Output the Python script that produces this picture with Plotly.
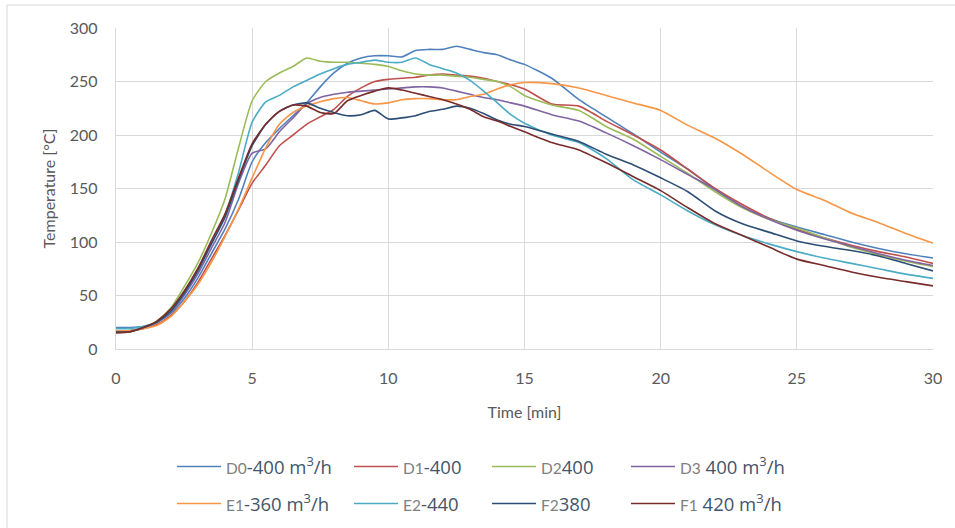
import plotly.graph_objects as go

# time grid [min]
time_min = [0, 0.5, 1, 1.5, 2, 2.5, 3, 3.5, 4, 4.5, 5, 5.5, 6, 6.5, 7, 7.5, 8, 8.5, 9, 9.5,
            10, 10.5, 11, 11.5, 12, 12.5, 13, 13.5, 14, 14.5, 15,
            16, 17, 18, 19, 20, 21, 22, 23, 24, 25, 26, 27, 28, 29, 30]

D0 = [20, 20, 21, 25, 33, 47, 66, 89, 112, 140, 175, 193, 206, 218, 230, 245, 258, 267, 272, 274,
      274, 273, 279, 280, 280, 283, 280, 277, 275, 270, 266,
      253, 233, 217, 201, 184, 168, 149, 133, 122, 114, 107, 100, 94, 89, 85]
D1 = [16, 17, 19, 23, 31, 44, 62, 84, 106, 130, 155, 172, 190, 200, 210, 217, 224, 236, 244, 250,
      252, 253, 254, 256, 257, 256, 255, 253, 250, 247, 243,
      229, 227, 213, 200, 186, 168, 150, 135, 122, 112, 104, 97, 91, 86, 80]
D2 = [17, 17, 20, 26, 38, 58, 80, 108, 140, 188, 232, 250, 258, 264, 272, 269, 268, 268, 267, 266,
      264, 260, 257, 256, 256, 255, 254, 252, 250, 245, 237,
      228, 223, 208, 196, 180, 164, 147, 132, 121, 113, 104, 95, 88, 82, 77]
D3 = [17, 17, 20, 25, 34, 50, 70, 94, 118, 155, 183, 187, 203, 216, 229, 235, 238, 240, 241, 242,
      243, 244, 245, 245, 244, 241, 238, 235, 233, 230, 227,
      219, 213, 202, 190, 177, 163, 149, 133, 121, 111, 103, 96, 89, 83, 78]
E1 = [17, 17, 19, 22, 30, 44, 60, 81, 105, 131, 160, 188, 210, 221, 227, 231, 234, 235, 232, 229,
      230, 233, 234, 234, 233, 233, 236, 238, 243, 247, 249,
      248, 244, 237, 230, 223, 209, 197, 182, 165, 149, 139, 127, 118, 108, 99]
E2 = [19, 19, 21, 25, 35, 52, 73, 99, 125, 165, 212, 231, 237, 245, 251, 257, 262, 266, 268, 270,
      268, 268, 272, 266, 262, 258, 251, 241, 230, 219, 211,
      200, 193, 178, 158, 144, 129, 116, 106, 98, 91, 85, 80, 75, 70, 66]
F2 = [16, 16, 20, 25, 35, 52, 73, 98, 123, 158, 190, 210, 222, 228, 230, 225, 221, 218, 219, 223,
      215, 216, 218, 222, 224, 227, 225, 220, 214, 210, 208,
      201, 194, 182, 172, 160, 147, 129, 117, 109, 101, 96, 92, 87, 80, 73]
F1 = [15, 16, 20, 26, 37, 54, 75, 101, 126, 160, 192, 210, 222, 228, 227, 221, 220, 232, 237, 241,
      244, 242, 239, 236, 233, 229, 224, 217, 213, 208, 203,
      193, 186, 174, 161, 148, 132, 117, 106, 95, 84, 78, 72, 67, 63, 59]

small = '<span style="font-family:Lato;font-size:15.5px;color:#808080">{}</span>'
series = [
    ("D0", small.format("D0") + "-400 m<sup>3</sup>/h", D0, "#4F81BD", "legend"),
    ("D1", small.format("D1") + "-400", D1, "#C0504D", "legend2"),
    ("D2", small.format("D2") + "400", D2, "#9BBB59", "legend3"),
    ("D3", small.format("D3") + " 400 m<sup>3</sup>/h", D3, "#8064A2", "legend4"),
    ("E1", small.format("E1") + "-360 m<sup>3</sup>/h", E1, "#F79646", "legend5"),
    ("E2", small.format("E2") + "-440", E2, "#4BACC6", "legend6"),
    ("F2", small.format("F2") + "380", F2, "#2C4D75", "legend7"),
    ("F1", small.format("F1") + " 420 m<sup>3</sup>/h", F1, "#772C2A", "legend8"),
]

fig = go.Figure()
for key, label, vals, color, leg in series:
    fig.add_trace(go.Scatter(x=time_min, y=vals, mode="lines", name=label,
                             line=dict(color=color, width=1.6, shape="spline", smoothing=0.6),
                             legend=leg, showlegend=True))

W, H = 955, 528
L, R, T, B = 116, 933, 28, 349
pw, ph = R - L, B - T

col_px = [178, 355, 493, 632, 178, 355, 493, 632]
row_px = [467, 467, 467, 467, 504, 504, 504, 504]
legend_ids = ["legend", "legend2", "legend3", "legend4", "legend5", "legend6", "legend7", "legend8"]
legend_font = dict(family="Open Sans", size=18.5, color="#44546A")
layout_legends = {}
for lid, cx, ry in zip(legend_ids, col_px, row_px):
    layout_legends[lid] = dict(
        x=(cx - 6 - L) / pw, xanchor="left",
        y=(B - ry) / ph, yanchor="middle",
        orientation="h", font=legend_font, bgcolor="rgba(0,0,0,0)",
        itemwidth=44, borderwidth=0, tracegroupgap=0,
    )

fig.update_layout(
    width=W, height=H,
    margin=dict(l=L, r=W - R, t=T, b=H - B, pad=0, autoexpand=False),
    paper_bgcolor="white", plot_bgcolor="white",
    font=dict(family="Lato", color="#595959", size=16),
    **layout_legends,
    shapes=[
        dict(type="line", xref="paper", yref="paper",
             x0=(7 - L) / pw, x1=(7 - L) / pw, y0=(B - 5) / ph, y1=(B - 540) / ph,
             line=dict(color="#d9d9d9", width=1)),
        dict(type="line", xref="paper", yref="paper",
             x0=(7 - L) / pw, x1=(960 - L) / pw, y0=(B - 5) / ph, y1=(B - 5) / ph,
             line=dict(color="#d9d9d9", width=1)),
    ],
)

fig.update_xaxes(
    range=[0, 30], dtick=5, tick0=0,
    showgrid=True, gridcolor="#d9d9d9", gridwidth=1.3,
    showline=True, linecolor="#d9d9d9", linewidth=1.3,
    zeroline=False, ticks="", ticklabelstandoff=15,
    tickfont=dict(family="Lato", size=16, color="#595959"),
    title=dict(text="Time [min]", font=dict(family="Lato", size=16, color="#595959"), standoff=20),
)
fig.update_yaxes(
    range=[0, 300], dtick=50, tick0=0,
    showgrid=True, gridcolor="#d9d9d9", gridwidth=1.3,
    showline=True, linecolor="#d9d9d9", linewidth=1.3,
    zeroline=False, ticks="", ticklabelstandoff=14,
    tickfont=dict(family="Lato", size=16, color="#595959"),
    title=dict(text="Temperature [°C]", font=dict(family="Lato", size=16, color="#595959"), standoff=10),
)

fig.write_html("out.html")
